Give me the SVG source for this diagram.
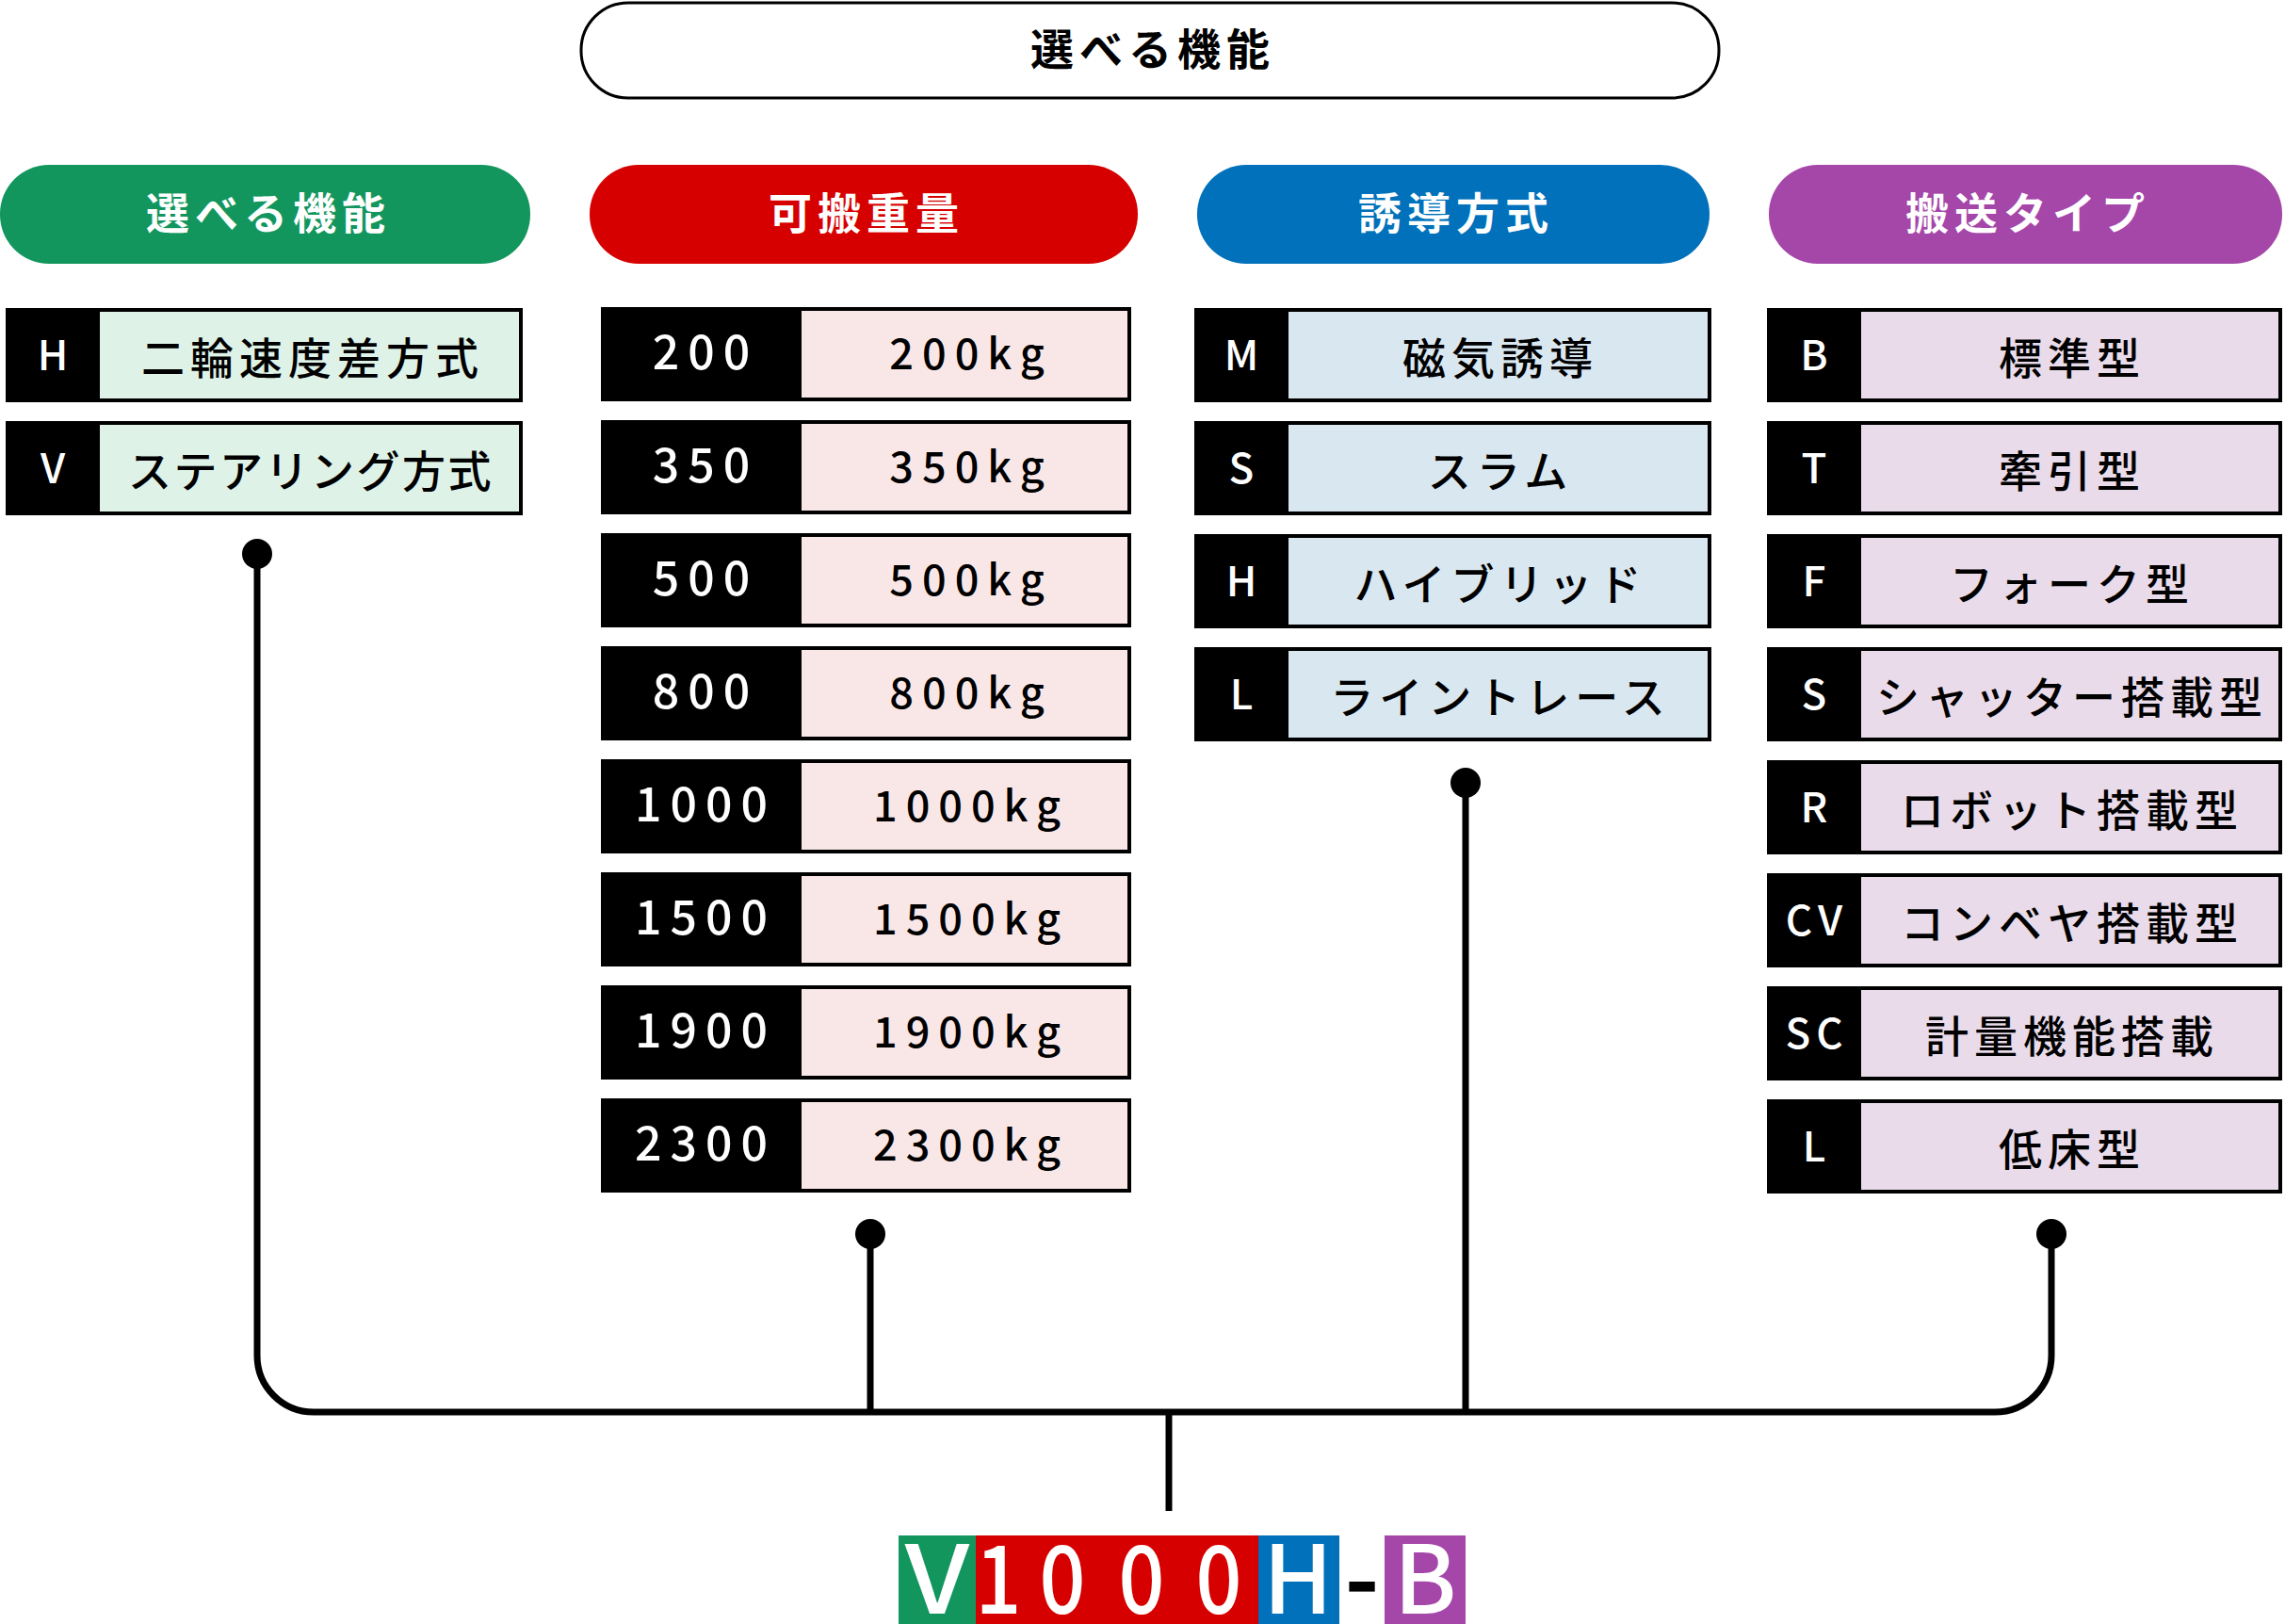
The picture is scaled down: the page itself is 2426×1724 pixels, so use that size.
<svg xmlns="http://www.w3.org/2000/svg" width="2426" height="1724" viewBox="0 0 2426 1724">
<style>
text{font-family:"Noto Sans CJK JP","Noto Sans",sans-serif;}
.hd{font-size:46px;font-weight:700;fill:#fff;letter-spacing:6px;text-anchor:middle;}
.tp{font-size:46px;font-weight:700;fill:#000;letter-spacing:6px;text-anchor:middle;}
.cj{font-size:46px;font-weight:500;fill:#000;letter-spacing:6px;text-anchor:middle;}
.cd{font-size:44px;font-weight:500;fill:#fff;letter-spacing:6px;text-anchor:middle;}
.num{font-size:50px;font-weight:500;fill:#fff;letter-spacing:9px;text-anchor:middle;}
.kg{font-size:45px;font-weight:500;fill:#000;letter-spacing:9px;text-anchor:middle;}
.blk{fill:#000;}
.c1{fill:#def2e8;}.c2{fill:#f9e7e7;}.c3{fill:#d9e7f0;}.c4{fill:#e9dbea;}
.ln{fill:none;stroke:#000;stroke-width:7;}
.big{font-size:100px;font-weight:500;fill:#fff;text-anchor:middle;}
</style>

<g id="top-pill">
<rect x="617" y="3" width="1208" height="101" rx="50" ry="50" fill="#fff" stroke="#000" stroke-width="3"/>
<text class="tp" x="1224" y="69">選べる機能</text>
</g>

<g id="header-1"><rect x="0" y="175" width="563" height="105" rx="52" ry="52" fill="#13965e"/><text class="hd" x="285" y="243">選べる機能</text></g>
<g id="header-2"><rect x="626" y="175" width="582" height="105" rx="52" ry="52" fill="#d70000"/><text class="hd" x="920" y="243">可搬重量</text></g>
<g id="header-3"><rect x="1271" y="175" width="544" height="105" rx="52" ry="52" fill="#0071ba"/><text class="hd" x="1546" y="243">誘導方式</text></g>
<g id="header-4"><rect x="1878" y="175" width="545" height="105" rx="52" ry="52" fill="#a546a9"/><text class="hd" x="2153" y="243">搬送タイプ</text></g>

<!-- column 1 -->
<g id="c1-H"><rect class="blk" x="6" y="327" width="549" height="100"/><rect class="c1" x="106" y="331" width="445" height="92"/><text class="cd" x="59" y="393">H</text><text class="cj" x="332" y="397">二輪速度差方式</text></g>
<g id="c1-V"><rect class="blk" x="6" y="447" width="549" height="100"/><rect class="c1" x="106" y="451" width="445" height="92"/><text class="cd" x="59" y="513">V</text><text class="cj" x="330" y="517" style="letter-spacing:2.5px">ステアリング方式</text></g>

<!-- column 2 -->
<g id="c2-200"><rect class="blk" x="638" y="326" width="563" height="100"/><rect class="c2" x="851" y="330" width="346" height="92"/><text class="num" x="749" y="392">200</text><text class="kg" x="1031" y="392">200kg</text></g>
<g id="c2-350"><rect class="blk" x="638" y="446" width="563" height="100"/><rect class="c2" x="851" y="450" width="346" height="92"/><text class="num" x="749" y="512">350</text><text class="kg" x="1031" y="512">350kg</text></g>
<g id="c2-500"><rect class="blk" x="638" y="566" width="563" height="100"/><rect class="c2" x="851" y="570" width="346" height="92"/><text class="num" x="749" y="632">500</text><text class="kg" x="1031" y="632">500kg</text></g>
<g id="c2-800"><rect class="blk" x="638" y="686" width="563" height="100"/><rect class="c2" x="851" y="690" width="346" height="92"/><text class="num" x="749" y="752">800</text><text class="kg" x="1031" y="752">800kg</text></g>
<g id="c2-1000"><rect class="blk" x="638" y="806" width="563" height="100"/><rect class="c2" x="851" y="810" width="346" height="92"/><text class="num" x="749" y="872">1000</text><text class="kg" x="1031" y="872">1000kg</text></g>
<g id="c2-1500"><rect class="blk" x="638" y="926" width="563" height="100"/><rect class="c2" x="851" y="930" width="346" height="92"/><text class="num" x="749" y="992">1500</text><text class="kg" x="1031" y="992">1500kg</text></g>
<g id="c2-1900"><rect class="blk" x="638" y="1046" width="563" height="100"/><rect class="c2" x="851" y="1050" width="346" height="92"/><text class="num" x="749" y="1112">1900</text><text class="kg" x="1031" y="1112">1900kg</text></g>
<g id="c2-2300"><rect class="blk" x="638" y="1166" width="563" height="100"/><rect class="c2" x="851" y="1170" width="346" height="92"/><text class="num" x="749" y="1232">2300</text><text class="kg" x="1031" y="1232">2300kg</text></g>

<!-- column 3 -->
<g id="c3-M"><rect class="blk" x="1268" y="327" width="549" height="100"/><rect class="c3" x="1368" y="331" width="445" height="92"/><text class="cd" x="1321" y="393">M</text><text class="cj" x="1593" y="397">磁気誘導</text></g>
<g id="c3-S"><rect class="blk" x="1268" y="447" width="549" height="100"/><rect class="c3" x="1368" y="451" width="445" height="92"/><text class="cd" x="1321" y="513">S</text><text class="cj" x="1593" y="517">スラム</text></g>
<g id="c3-H"><rect class="blk" x="1268" y="567" width="549" height="100"/><rect class="c3" x="1368" y="571" width="445" height="92"/><text class="cd" x="1321" y="633">H</text><text class="cj" x="1593" y="637">ハイブリッド</text></g>
<g id="c3-L"><rect class="blk" x="1268" y="687" width="549" height="100"/><rect class="c3" x="1368" y="691" width="445" height="92"/><text class="cd" x="1321" y="753">L</text><text class="cj" x="1593" y="757">ライントレース</text></g>

<!-- column 4 -->
<g id="c4-B"><rect class="blk" x="1876" y="327" width="547" height="100"/><rect class="c4" x="1976" y="331" width="443" height="92"/><text class="cd" x="1929" y="393">B</text><text class="cj" x="2200" y="397">標準型</text></g>
<g id="c4-T"><rect class="blk" x="1876" y="447" width="547" height="100"/><rect class="c4" x="1976" y="451" width="443" height="92"/><text class="cd" x="1929" y="513">T</text><text class="cj" x="2200" y="517">牽引型</text></g>
<g id="c4-F"><rect class="blk" x="1876" y="567" width="547" height="100"/><rect class="c4" x="1976" y="571" width="443" height="92"/><text class="cd" x="1929" y="633">F</text><text class="cj" x="2200" y="637">フォーク型</text></g>
<g id="c4-S"><rect class="blk" x="1876" y="687" width="547" height="100"/><rect class="c4" x="1976" y="691" width="443" height="92"/><text class="cd" x="1929" y="753">S</text><text class="cj" x="2200" y="757">シャッター搭載型</text></g>
<g id="c4-R"><rect class="blk" x="1876" y="807" width="547" height="100"/><rect class="c4" x="1976" y="811" width="443" height="92"/><text class="cd" x="1929" y="873">R</text><text class="cj" x="2200" y="877">ロボット搭載型</text></g>
<g id="c4-CV"><rect class="blk" x="1876" y="927" width="547" height="100"/><rect class="c4" x="1976" y="931" width="443" height="92"/><text class="cd" x="1929" y="993">CV</text><text class="cj" x="2200" y="997">コンベヤ搭載型</text></g>
<g id="c4-SC"><rect class="blk" x="1876" y="1047" width="547" height="100"/><rect class="c4" x="1976" y="1051" width="443" height="92"/><text class="cd" x="1929" y="1113">SC</text><text class="cj" x="2200" y="1117">計量機能搭載</text></g>
<g id="c4-L"><rect class="blk" x="1876" y="1167" width="547" height="100"/><rect class="c4" x="1976" y="1171" width="443" height="92"/><text class="cd" x="1929" y="1233">L</text><text class="cj" x="2200" y="1237">低床型</text></g>

<g id="connectors">
<path class="ln" d="M273,588 V1439 A60,60 0 0 0 333,1499 H2118 A60,60 0 0 0 2178,1439 V1310"/>
<path class="ln" stroke-width="6" d="M924,1310 V1499"/>
<path class="ln" stroke-width="6" d="M1556,831 V1499"/>
<path class="ln" stroke-width="8" d="M1241,1499 V1604"/>
<circle cx="273" cy="588" r="16"/>
<circle cx="924" cy="1310" r="16"/>
<circle cx="1556" cy="831" r="16"/>
<circle cx="2178" cy="1310" r="16"/>
</g>

<g id="model-code">
<rect x="954" y="1630" width="82" height="94" fill="#13965e"/>
<rect x="1036" y="1630" width="300" height="94" fill="#d70000"/>
<rect x="1336" y="1630" width="86" height="94" fill="#0071ba"/>
<rect x="1470" y="1630" width="86" height="94" fill="#a546a9"/>
<text class="big" transform="translate(995,1713) scale(1.15,1)">V</text>
<text class="big" transform="translate(1060,1713) scale(0.86,1)">1</text>
<text class="big" transform="translate(1128,1713) scale(0.86,1)">0</text>
<text class="big" transform="translate(1212,1713) scale(0.86,1)">0</text>
<text class="big" transform="translate(1294,1713) scale(0.86,1)">0</text>
<text class="big" transform="translate(1378,1713)">H</text>
<text class="big" transform="translate(1446,1713)" style="fill:#000;font-weight:700">-</text>
<text class="big" transform="translate(1513,1713)">B</text>
</g>
</svg>
